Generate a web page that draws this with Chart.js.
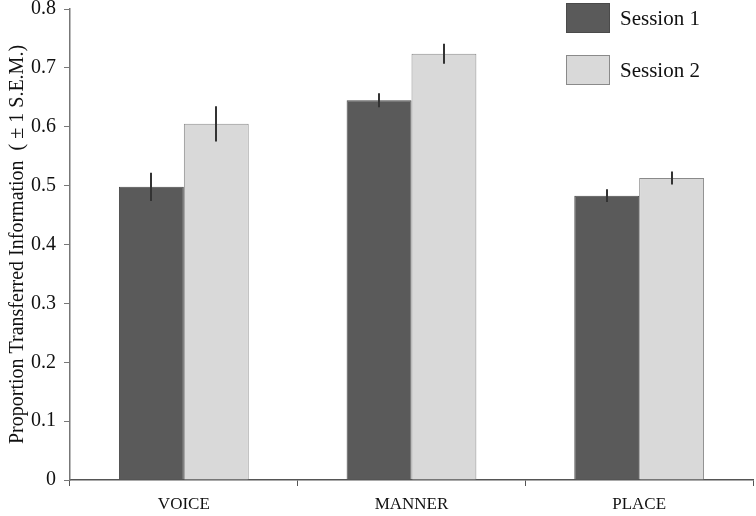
<!DOCTYPE html>
<html>
<head>
<meta charset="utf-8">
<script src="https://cdn.jsdelivr.net/npm/chart.js@4/dist/chart.umd.min.js"></script>
<style>
html,body{margin:0;padding:0;background:#fff;}
#wrap{width:756px;height:516px;position:relative;}
</style>
</head>
<body>
<div id="wrap"><canvas id="c" width="756" height="516"></canvas></div>
<script>
const categories = ["VOICE", "MANNER", "PLACE"];
const seriesNames = ["Session 1", "Session 2"];
const session1 = [0.498, 0.645, 0.483];
const session2 = [0.605, 0.724, 0.513];
const session1Sem = [0.024, 0.012, 0.011];
const session2Sem = [0.030, 0.017, 0.011];
const yTicks = [0, 0.1, 0.2, 0.3, 0.4, 0.5, 0.6, 0.7, 0.8];
const yTitle = "Proportion Transferred Information  ( \u00B1 1 S.E.M.)";

const FONT = "'Liberation Serif', 'Times New Roman', serif";

const errorBars = {
  id: 'errorBars',
  afterDatasetsDraw(chart) {
    const ctx = chart.ctx;
    const y = chart.scales.y;
    chart.data.datasets.forEach((ds, i) => {
      const meta = chart.getDatasetMeta(i);
      meta.data.forEach((el, j) => {
        const v = ds.data[j], e = ds.sem[j];
        ctx.save();
        ctx.strokeStyle = '#333333';
        ctx.lineWidth = 2;
        ctx.beginPath();
        ctx.moveTo(Math.round(el.x), y.getPixelForValue(v + e));
        ctx.lineTo(Math.round(el.x), y.getPixelForValue(v - e));
        ctx.stroke();
        ctx.restore();
      });
    });
  }
};

const customLegend = {
  id: 'customLegend',
  afterDraw(chart) {
    const ctx = chart.ctx;
    chart.data.datasets.forEach((ds, i) => {
      const bx = 566, by = 3 + i * 52, bw = 44, bh = 30;
      ctx.save();
      ctx.fillStyle = ds.backgroundColor;
      ctx.fillRect(bx, by, bw, bh);
      ctx.strokeStyle = ds.borderColor;
      ctx.lineWidth = 1;
      ctx.strokeRect(bx + 0.5, by + 0.5, bw - 1, bh - 1);
      ctx.fillStyle = '#111';
      ctx.font = "21px " + FONT;
      ctx.textBaseline = 'middle';
      ctx.textAlign = 'left';
      ctx.fillText(ds.label, 620, by + bh / 2 + 1);
      ctx.restore();
    });
  }
};

new Chart(document.getElementById('c'), {
  type: 'bar',
  data: {
    labels: categories,
    datasets: [
      { label: seriesNames[0], data: session1, sem: session1Sem,
        backgroundColor: '#5a5a5a', borderColor: '#4a4a4a', borderWidth: 1 },
      { label: seriesNames[1], data: session2, sem: session2Sem,
        backgroundColor: '#d9d9d9', borderColor: '#8a8a8a', borderWidth: 1 }
    ]
  },
  options: {
    responsive: false,
    animation: false,
    layout: { padding: { top: 9, right: 3, left: 0, bottom: 0 } },
    datasets: { bar: { categoryPercentage: 0.57, barPercentage: 1.0 } },
    plugins: { legend: { display: false }, tooltip: { enabled: false } },
    scales: {
      x: {
        offset: true,
        grid: { offset: true, drawOnChartArea: false, tickLength: 6, color: '#555' },
        border: { color: '#555', width: 1.5 },
        ticks: { color: '#111', font: { family: FONT, size: 17 }, padding: 8 },
        afterFit(s) { s.height = 36; }
      },
      y: {
        min: 0, max: 0.8,
        afterBuildTicks(s) { s.ticks = yTicks.map(v => ({ value: v })); },
        grid: { drawOnChartArea: false, tickLength: 6, color: '#777' },
        border: { color: '#777', width: 1.5 },
        ticks: { color: '#111', font: { family: FONT, size: 20 }, padding: 8,
                 callback: v => String(v) },
        title: { display: true, text: yTitle, color: '#111',
                 font: { family: FONT, size: 20 }, padding: { top: 6, bottom: 0 } },
        afterFit(s) { s.width = 70; s.paddingTop = 0; s.paddingBottom = 0; }
      }
    }
  },
  plugins: [errorBars, customLegend]
});
</script>
</body>
</html>
